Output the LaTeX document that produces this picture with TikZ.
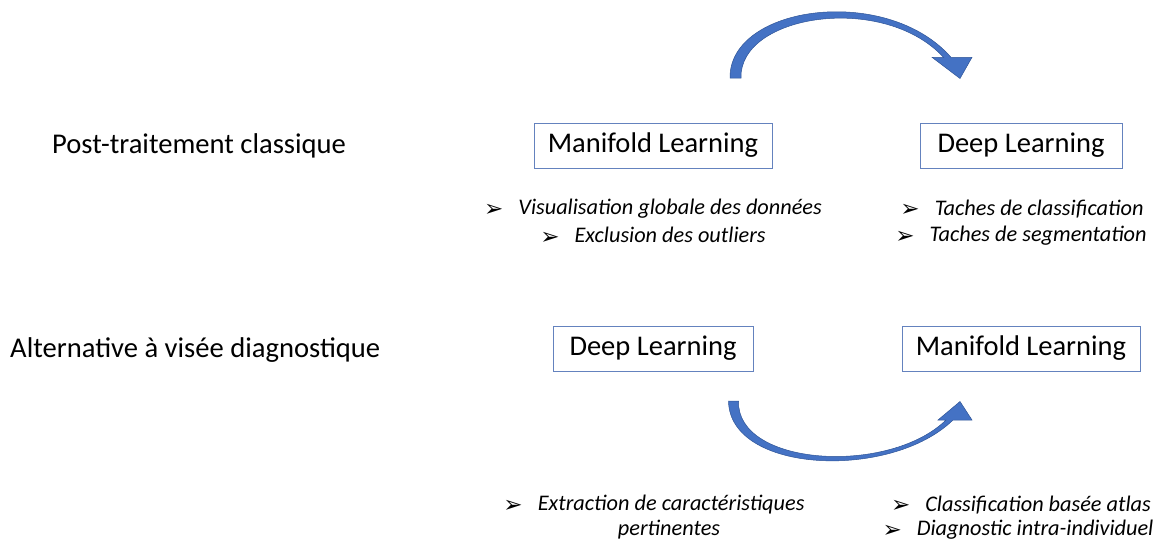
\documentclass[tikz,border=0pt]{standalone}
\usepackage{fontspec}
\setmainfont{Carlito}
\newfontfamily\dejavu{DejaVu Sans}
\definecolor{arrowblue}{RGB}{68,114,196}
\definecolor{arrowedge}{RGB}{47,85,151}
\definecolor{boxline}{RGB}{100,130,190}
\newcommand\bul{\raisebox{-1.5pt}{\fontsize{23}{23}\dejavu ➢}}
\begin{document}
\begin{tikzpicture}[x=1pt,y=-1pt,
  box/.style={draw=boxline,line width=0.9pt,minimum height=45pt,inner sep=0pt,font=\fontsize{28.5}{30}\selectfont},
  side/.style={anchor=west,inner sep=0pt,font=\fontsize{28.6}{30}\selectfont},
  item/.style={inner sep=0pt,font=\fontsize{22.3}{24}\selectfont\itshape},
  curvearrow/.style={fill=arrowblue,draw=arrowedge,line width=0.5pt,line join=miter}]
\useasboundingbox (0,0) rectangle (1171,542);

\node[side] (lab1) at (52,146) {Post-traitement classique};
\node[side] (lab2) at (10,350) {Alternative à visée diagnostique};

\node[box,minimum width=238pt] (ml1) at (653,145.5) {Manifold Learning};
\node[box,minimum width=202pt] (dl1) at (1021,145.5) {Deep Learning};
\node[box,minimum width=200pt] (dl2) at (653,348.5) {Deep Learning};
\node[box,minimum width=238pt] (ml2) at (1021,348.5) {Manifold Learning};

\node[item] (a1) at (653,209) {\bul\hspace{15pt}Visualisation globale des données};
\node[item] (a2) at (653,236) {\bul\hspace{15pt}Exclusion des outliers};
\node[item] (b1) at (1022,209) {\bul\hspace{15pt}Taches de classification};
\node[item] (b2) at (1021,236) {\bul\hspace{15pt}Taches de segmentation};
\node[item] (c1) at (654,505) {\bul\hspace{15pt}Extraction de caractéristiques};
\node[item] (c2) at (669,530) {pertinentes};
\node[item] (d1) at (1021,505) {\bul\hspace{15pt}Classification basée atlas};
\node[item] (d2) at (1018,530) {\bul\hspace{15pt}Diagnostic intra-individuel};

% top curved arrow (from above Manifold Learning towards Deep Learning)
\coordinate (t0) at (730,78);
\coordinate (t1) at (741,78);
\coordinate (th) at (960,78.5);
\draw[curvearrow] (t0) .. controls (729,5.5) and (886.5,-16.25) .. (951,57.3)
  -- (972,57.3) -- (th) -- (932,57.3) -- (943.5,57.3)
  .. controls (883.5,-7.75) and (739,14.5) .. (t1) -- cycle;

% bottom curved arrow (from below Deep Learning towards Manifold Learning)
\coordinate (u0) at (728.5,401);
\coordinate (u1) at (738.5,401);
\coordinate (uh) at (960,401.5);
\draw[curvearrow] (u0) .. controls (729.5,473.5) and (890.9,480.5) .. (953,420)
  -- (972,420) -- (uh) -- (938,420) -- (946,420)
  .. controls (889.1,475.5) and (736.5,466.5) .. (u1) -- cycle;
\end{tikzpicture}
\end{document}
